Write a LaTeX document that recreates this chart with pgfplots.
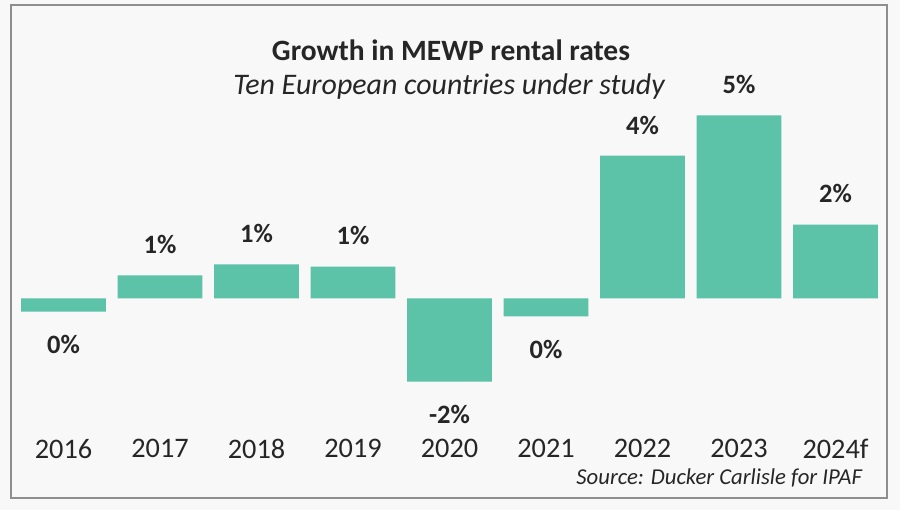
\documentclass[border=0pt]{standalone}
\usepackage{fontspec}
\setmainfont{Carlito}
\usepackage{pgfplots}
\pgfplotsset{compat=1.18}
\definecolor{barc}{HTML}{5CC2A8}
\definecolor{bgc}{HTML}{F8F8F8}
\definecolor{framec}{HTML}{8E8E8E}
\definecolor{txt}{HTML}{262626}

\begin{document}
\begin{tikzpicture}[x=0.5bp,y=0.5bp]
  % canvas in pixel units (900 x 510), y measured upwards
  \useasboundingbox (0,0) rectangle (900,510);
  \fill[bgc] (0,0) rectangle (900,510);
  \draw[framec, line width=1.3bp] (11,505) rectangle (887,12);

  \begin{axis}[
      at={(7.625bp,35.5bp)}, anchor=south west,
      scale only axis,
      width=434.25bp, height=189.2bp,
      xmin=-0.5, xmax=8.5,
      ymin=-3.84, ymax=6.5,
      axis line style={draw=none},
      major tick length=0pt,
      ytick=\empty,
      xtick={0,...,8},
      xticklabels={2016,2017,2018,2019,2020,2021,2022,2023,2024f},
      xticklabel style={font=\fontsize{14.2}{16}\selectfont, text=txt,
                        inner sep=0pt, anchor=north},
      bar width=0.88,
      clip=false,
      point meta=explicit symbolic,
    ]
    \addplot[ybar, bar shift=0pt, fill=barc, draw=none,
      nodes near coords,
      nodes near coords style={font=\bfseries\fontsize{13.3}{16}\selectfont,
                               text=txt, inner xsep=0pt, inner ysep=10.5bp, anchor=south}]
      coordinates {
      (1,0.63)  [1\%]
      (2,0.93)  [1\%]
      (3,0.87)  [1\%]
      (6,3.90)  [4\%]
      (7,5.00)  [5\%]
      (8,2.02)  [2\%]
    };
    \addplot[ybar, bar shift=0pt, fill=barc, draw=none,
      nodes near coords,
      nodes near coords style={font=\bfseries\fontsize{13.3}{16}\selectfont,
                               text=txt, inner xsep=0pt, inner ysep=11.5bp, anchor=north}]
      coordinates {
      (0,-0.36) [0\%]
      (4,-2.27) [-2\%]
      (5,-0.49) [0\%]
    };
  \end{axis}

  \node[font=\bfseries\fontsize{14.8}{17}\selectfont, text=txt] at (451,460) {Growth in MEWP rental rates};
  \node[font=\itshape\fontsize{15}{17}\selectfont, text=txt] at (449,423) {Ten European countries under study};
  \node[anchor=east, font=\itshape\fontsize{11.4}{13}\selectfont, text=txt] at (869,32) {Source: Ducker Carlisle for IPAF};
\end{tikzpicture}
\end{document}
